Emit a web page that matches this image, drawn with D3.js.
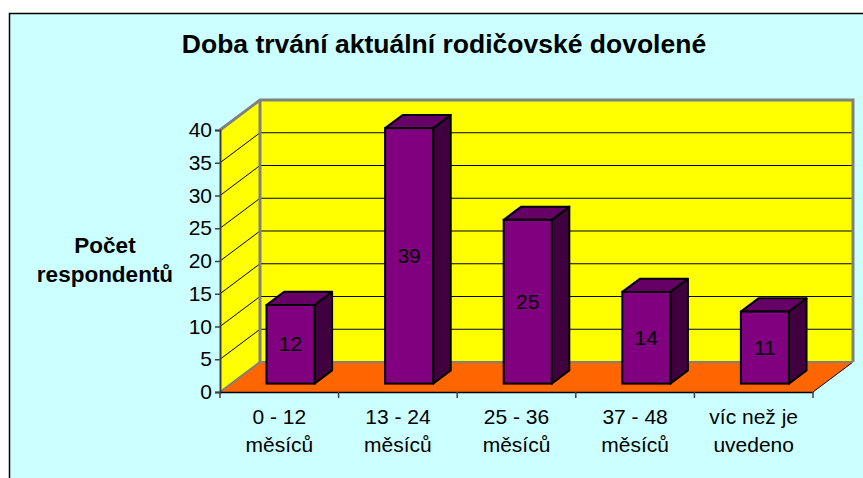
<!DOCTYPE html>
<html>
<head>
<meta charset="utf-8">
<script src="https://cdnjs.cloudflare.com/ajax/libs/d3/7.8.5/d3.min.js"></script>
<style>
  body { margin: 0; background: #fff; }
  svg text { font-family: "Liberation Sans", Arial, sans-serif; fill: #000; }
</style>
</head>
<body>
<div id="chart"></div>
<script>
// data
var categories = ["0 - 12|měsíců", "13 - 24|měsíců", "25 - 36|měsíců", "37 - 48|měsíců", "víc než je|uvedeno"];
var values = [12, 39, 25, 14, 11];
var yTicks = [0, 5, 10, 15, 20, 25, 30, 35, 40];
var title = "Doba trvání aktuální rodičovské dovolené";
var yTitle = ["Počet", "respondentů"];

var W = 863, H = 478;
var depthX = 40, depthY = -30;   // 3d depth of the plot box
var barFront = 0.28, barBack = 0.72;

var svg = d3.select("#chart").append("svg")
    .attr("width", W)
    .attr("height", H);

// chart area background
svg.append("rect")
    .attr("x", 9.5).attr("y", 13.5)
    .attr("width", W).attr("height", H)
    .attr("fill", "#ccffff")
    .attr("stroke", "#000")
    .attr("stroke-width", 1.5);

var x = d3.scaleBand().domain(categories).range([220, 813]);
var y = d3.scaleLinear().domain([0, 40]).range([392, 130]);

function pt(px, py, d) { return [px + d * depthX, py + d * depthY]; }
function poly(pts) { return pts.map(function(p) { return p.join(","); }).join(" "); }

var xl = x.range()[0], xr = x.range()[1];
var y0 = y(0), yT = y(40);

// left wall
svg.append("polygon")
    .attr("points", poly([pt(xl, y0, 0), pt(xl, yT, 0), pt(xl, yT, 1), pt(xl, y0, 1)]))
    .attr("fill", "#ffff00");
// back wall
svg.append("polygon")
    .attr("points", poly([pt(xl, yT, 1), pt(xr, yT, 1), pt(xr, y0, 1), pt(xl, y0, 1)]))
    .attr("fill", "#ffff00");
// floor
svg.append("polygon")
    .attr("points", poly([pt(xl, y0, 0), pt(xr, y0, 0), pt(xr, y0, 1), pt(xl, y0, 1)]))
    .attr("fill", "#ff6600");
svg.append("line")
    .attr("x1", xr).attr("y1", y0)
    .attr("x2", pt(xr, y0, 1)[0]).attr("y2", pt(xr, y0, 1)[1])
    .attr("stroke", "#000").attr("stroke-width", 1);

// gridlines
yTicks.filter(function(d) { return d > 0 && d < 40; }).forEach(function(t) {
  svg.append("polyline")
      .attr("points", poly([pt(xl, y(t), 0), pt(xl, y(t), 1), pt(xr, y(t), 1)]))
      .attr("fill", "none")
      .attr("stroke", "#000")
      .attr("stroke-width", 1);
});

// gray wall borders
svg.append("polyline")
    .attr("points", poly([pt(xl, y0, 0), pt(xl, y0, 1), pt(xr, y0, 1)]))
    .attr("fill", "none").attr("stroke", "#808080").attr("stroke-width", 2);
svg.append("polyline")
    .attr("points", poly([pt(xl, yT, 0), pt(xl, yT, 1), pt(xr, yT, 1), pt(xr, y0, 1)]))
    .attr("fill", "none").attr("stroke", "#808080").attr("stroke-width", 3)
    .attr("stroke-linejoin", "miter");
svg.append("line")
    .attr("x1", pt(xl, yT, 1)[0]).attr("y1", pt(xl, yT, 1)[1])
    .attr("x2", pt(xl, y0, 1)[0]).attr("y2", pt(xl, y0, 1)[1])
    .attr("stroke", "#808080").attr("stroke-width", 3);

// bars
var bw = x.bandwidth() * 0.405;
var bars = svg.append("g").selectAll("g")
  .data(values)
  .enter().append("g");

bars.each(function(v, i) {
  var g = d3.select(this);
  var cx = x(categories[i]) + x.bandwidth() / 2;
  var l = cx - bw / 2, r = cx + bw / 2;
  var ft = y(v), fb = y(0);
  // side
  g.append("polygon")
      .attr("points", poly([pt(r, ft, barFront), pt(r, ft, barBack), pt(r, fb, barBack), pt(r, fb, barFront)]))
      .attr("fill", "#400040").attr("stroke", "#000").attr("stroke-width", 2).attr("stroke-linejoin", "round");
  // top
  g.append("polygon")
      .attr("points", poly([pt(l, ft, barFront), pt(r, ft, barFront), pt(r, ft, barBack), pt(l, ft, barBack)]))
      .attr("fill", "#660066").attr("stroke", "#000").attr("stroke-width", 2).attr("stroke-linejoin", "round");
  // front
  var f0 = pt(l, ft, barFront), f1 = pt(r, fb, barFront);
  g.append("rect")
      .attr("x", f0[0]).attr("y", f0[1])
      .attr("width", f1[0] - f0[0]).attr("height", f1[1] - f0[1])
      .attr("fill", "#800080").attr("stroke", "#000").attr("stroke-width", 2);
  g.append("text")
      .attr("x", (f0[0] + f1[0]) / 2)
      .attr("y", (f0[1] + f1[1]) / 2 + 7)
      .attr("text-anchor", "middle")
      .attr("font-size", "21px")
      .text(v);
});

// y axis
var yAxis = svg.append("g")
    .attr("transform", "translate(" + xl + ",0)")
    .call(d3.axisLeft(y).tickValues(yTicks).tickSize(5).tickPadding(3));
yAxis.select(".domain").attr("stroke", "#404040").attr("stroke-width", 2);
yAxis.selectAll(".tick line").attr("stroke", "#404040").attr("stroke-width", 1.5);
yAxis.selectAll(".tick text")
    .attr("font-size", "21px")
    .attr("font-family", "Liberation Sans, Arial, sans-serif")
    .attr("fill", "#000");

// x axis
var xAxis = svg.append("g")
    .attr("transform", "translate(0," + y0 + ")")
    .call(d3.axisBottom(x).tickSize(0).tickFormat(""));
xAxis.select(".domain").attr("stroke", "#000").attr("stroke-width", 1.5);
var bounds = categories.map(function(c) { return x(c); }).concat([xr]);
xAxis.selectAll(".bound")
  .data(bounds)
  .enter().append("line")
    .attr("class", "bound")
    .attr("x1", function(d) { return d; }).attr("x2", function(d) { return d; })
    .attr("y1", 0).attr("y2", 6)
    .attr("stroke", "#404040").attr("stroke-width", 1.5);

categories.forEach(function(c) {
  var lines = c.split("|");
  var t = svg.append("text")
      .attr("x", x(c) + x.bandwidth() / 2)
      .attr("y", 424)
      .attr("text-anchor", "middle")
      .attr("font-size", "21px");
  lines.forEach(function(s, j) {
    t.append("tspan")
        .attr("x", x(c) + x.bandwidth() / 2)
        .attr("dy", j === 0 ? 0 : 28)
        .text(s);
  });
});

// titles
svg.append("text")
    .attr("x", 444).attr("y", 53)
    .attr("text-anchor", "middle")
    .attr("font-size", "26.5px")
    .attr("font-weight", "bold")
    .text(title);

var yt = svg.append("text")
    .attr("x", 105).attr("y", 253)
    .attr("text-anchor", "middle")
    .attr("font-size", "22.5px")
    .attr("font-weight", "bold");
yTitle.forEach(function(s, j) {
  yt.append("tspan")
      .attr("x", 105)
      .attr("dy", j === 0 ? 0 : 29)
      .text(s);
});
</script>
</body>
</html>
